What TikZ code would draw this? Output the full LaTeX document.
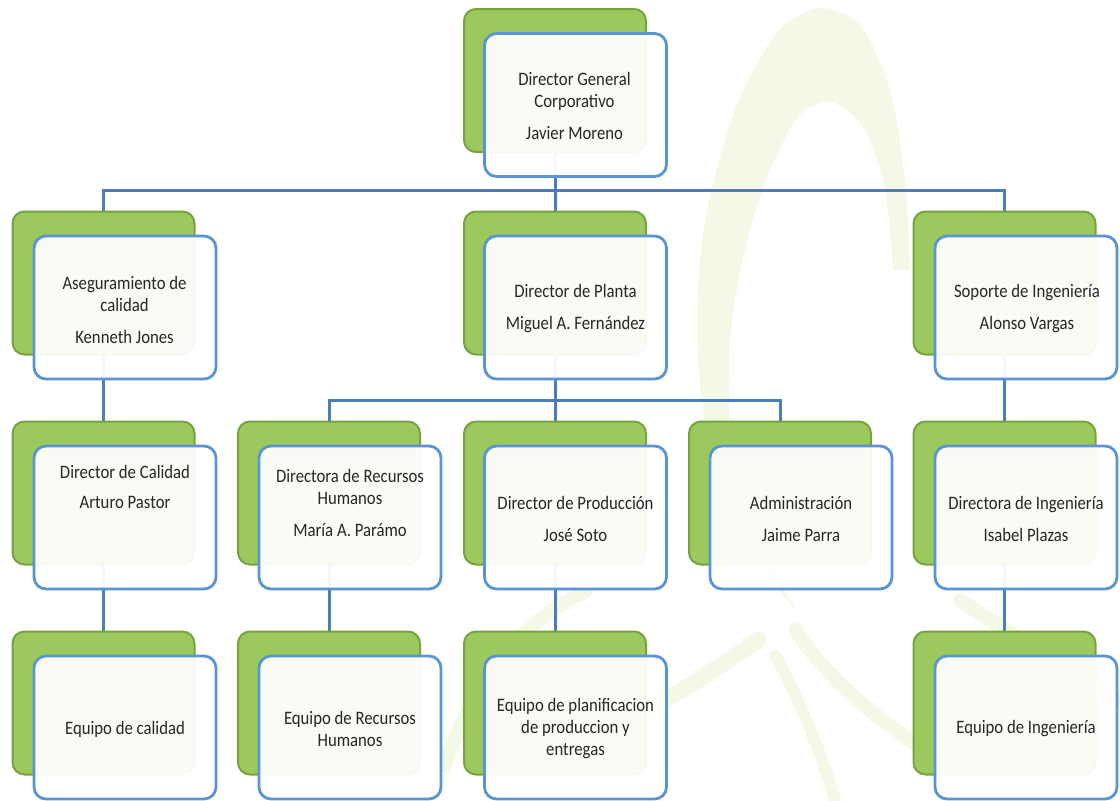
\documentclass[tikz,border=0pt]{standalone}
\usepackage{fontspec}
\setmainfont{Carlito}[FakeStretch=0.88]
\definecolor{wm}{HTML}{F4F8E6}
\definecolor{gfill}{HTML}{9BC95E}
\definecolor{gdraw}{HTML}{76A33D}
\definecolor{bdraw}{HTML}{5B94D3}
\definecolor{lcol}{HTML}{4A7EBB}
\definecolor{tcol}{HTML}{262626}
\pgfdeclarelayer{wml}
\pgfdeclarelayer{bg}
\pgfsetlayers{wml,bg,main}
\tikzset{
  gbox/.style={fill=gfill, draw=gdraw, line width=2pt, rounded corners=12pt,
    minimum width=182pt, minimum height=143pt, inner sep=0pt},
  wbox/.style={fill=white, fill opacity=0.94, draw=bdraw, line width=2.8pt, rounded corners=12pt,
    minimum width=182pt, minimum height=143pt, inner sep=0pt},
  conn/.style={draw=lcol, line width=3pt},
  lbl/.style={align=center, text=tcol, font=\fontsize{19}{22}\selectfont, inner sep=0pt},
  swoosh/.style={draw=wm, line cap=round}
}
\begin{document}
\begin{tikzpicture}[x=1pt,y=-1pt]
\useasboundingbox (0,0) rectangle (1120,801);
% watermark
\begin{pgfonlayer}{wml}
\fill[wm] plot[smooth] coordinates {(797,612) (745,540) (707,430) (697,330) (705,220) (735,110) (775,35) (817,8) (860,25) (890,90) (905,180) (910,270)}
  -- plot[smooth] coordinates {(893,270) (885,190) (865,130) (833,102) (800,115) (770,170) (745,250) (730,340) (732,440) (760,540) (797,612)} -- cycle;
\draw[swoosh, line width=16pt] (758,640) .. controls (700,680) and (660,705) .. (620,725);
\draw[swoosh, line width=14pt] (585,592) .. controls (520,620) and (470,690) .. (445,765);
\draw[swoosh, line width=12pt] (775,655) .. controls (800,700) and (820,750) .. (835,801);
\draw[swoosh, line width=14pt] (795,630) .. controls (830,680) and (870,715) .. (940,760);
\draw[swoosh, line width=14pt] (960,600) .. controls (1020,640) and (1070,670) .. (1120,700);
\end{pgfonlayer}

% bar levels
\coordinate (b1) at (0,190);
\coordinate (b2) at (0,400);

% green boxes
\node[gbox] (gT) at (555,80.5) {};
\node[gbox] (gA) at (103.5,283) {};
\node[gbox] (gP) at (555,283) {};
\node[gbox] (gS) at (1004.5,283) {};
\node[gbox] (gC) at (103.5,493) {};
\node[gbox] (gH) at (329,493) {};
\node[gbox] (gR) at (555,493) {};
\node[gbox] (gD) at (780,493) {};
\node[gbox] (gI) at (1004.5,493) {};
\node[gbox] (gEC) at (103.5,703) {};
\node[gbox] (gEH) at (329,703) {};
\node[gbox] (gEP) at (555,703) {};
\node[gbox] (gEI) at (1004.5,703) {};

% connectors (behind the boxes)
\begin{pgfonlayer}{bg}
\draw[conn] (gT.center) -- (gP.center);
\draw[conn] (gA.center) -- (gA.center |- b1) -- (gS.center |- b1) -- (gS.center);
\draw[conn] (gP.center) -- (gR.center) -- (gEP.center);
\draw[conn] (gH.center) -- (gH.center |- b2) -- (gD.center |- b2) -- (gD.center);
\draw[conn] (gA.center) -- (gC.center) -- (gEC.center);
\draw[conn] (gH.center) -- (gEH.center);
\draw[conn] (gS.center) -- (gI.center) -- (gEI.center);
\end{pgfonlayer}

% white boxes
\node[wbox] (wT) at (575.5,105) {};
\node[wbox] (wA) at (125,307.5) {};
\node[wbox] (wP) at (575.5,307.5) {};
\node[wbox] (wS) at (1026,307.5) {};
\node[wbox] (wC) at (125,517.5) {};
\node[wbox] (wH) at (350,517.5) {};
\node[wbox] (wR) at (575.5,517.5) {};
\node[wbox] (wD) at (801,517.5) {};
\node[wbox] (wI) at (1026,517.5) {};
\node[wbox] (wEC) at (125,727.5) {};
\node[wbox] (wEH) at (350,727.5) {};
\node[wbox] (wEP) at (575.5,727.5) {};
\node[wbox] (wEI) at (1026,727.5) {};

% labels
\node[lbl] (tT) at (574.5,105.5) {Director General\\Corporativo\\[10pt]Javier Moreno};
\node[lbl] (tA) at (124.5,309.5) {Aseguramiento de\\calidad\\[10pt]Kenneth Jones};
\node[lbl] (tP) at (575.5,309) {Director de Planta\\[10pt]Miguel A. Fernández};
\node[lbl] (tS) at (1027,309) {Soporte de Ingeniería\\[10pt]Alonso Vargas};
\node[lbl] (tC) at (125,487) {Director de Calidad\\[8pt]Arturo Pastor};
\node[lbl] (tH) at (350,503) {Directora de Recursos\\Humanos\\[10pt]María A. Parámo};
\node[lbl] (tR) at (575.5,519) {Director de Producción\\[10pt]José Soto};
\node[lbl] (tD) at (801,519) {Administración\\[10pt]Jaime Parra};
\node[lbl] (tI) at (1026,519) {Directora de Ingeniería\\[10pt]Isabel Plazas};
\node[lbl] (tEC) at (125,729) {Equipo de calidad};
\node[lbl] (tEH) at (350,729) {Equipo de Recursos\\Humanos};
\node[lbl] (tEP) at (575.5,729) {Equipo de planificacion\\de produccion y\\entregas};
\node[lbl] (tEI) at (1026,729) {Equipo de Ingeniería};
\end{tikzpicture}
\end{document}
